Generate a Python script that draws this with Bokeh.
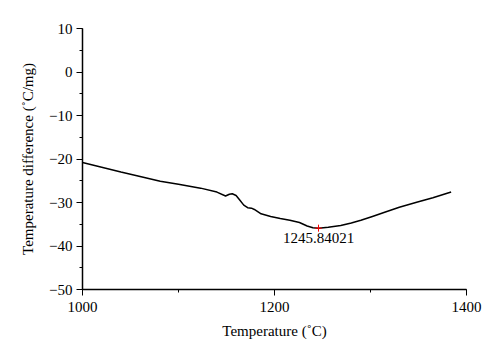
from bokeh.plotting import figure
from bokeh.models import Range1d, SingleIntervalTicker
from bokeh.core.properties import value
from bokeh.embed import file_html
from bokeh.resources import INLINE

temp = [1000, 1020, 1040, 1060, 1081, 1100, 1123, 1140, 1149, 1153, 1156, 1160, 1164, 1168,
        1172, 1176, 1179, 1186, 1196, 1206, 1216, 1226, 1234, 1240, 1245.84, 1256, 1269,
        1280, 1290, 1302, 1314, 1330, 1349, 1365, 1384]
diff = [-20.8, -21.9, -23.0, -24.0, -25.1, -25.8, -26.7, -27.6, -28.5, -28.1, -28.0, -28.4,
        -29.5, -30.6, -31.2, -31.3, -31.6, -32.6, -33.2, -33.7, -34.1, -34.6, -35.4, -35.8,
        -35.9, -35.7, -35.3, -34.7, -34.1, -33.2, -32.3, -31.1, -29.9, -28.9, -27.6]
min_x = [1245.84021]
min_y = [-35.9]
min_label = ["1245.84021"]

FONT = "Liberation Serif"

p = figure(width=500, height=354, output_backend="svg", toolbar_location=None,
           x_range=Range1d(1000, 1400), y_range=Range1d(-50, 10),
           min_border_left=82, min_border_right=34, min_border_top=28, min_border_bottom=65)
p.outline_line_color = None
p.xgrid.visible = False
p.ygrid.visible = False
p.background_fill_color = "white"
p.border_fill_color = "white"

p.line(temp, diff, line_color="black", line_width=1.5)
p.scatter(min_x, min_y, marker="cross", size=7, line_color="red", line_width=1)
p.text(x=min_x, y=min_y, text=min_label, text_align="center", text_baseline="top",
       y_offset=5, text_font=value(FONT), text_font_size="15px", text_color="black")

p.xaxis.ticker = SingleIntervalTicker(interval=200, num_minor_ticks=2)
p.yaxis.ticker = SingleIntervalTicker(interval=10, num_minor_ticks=2)
p.xaxis.axis_label = "Temperature (˚C)"
p.yaxis.axis_label = "Temperature difference (˚C/mg)"
for ax in (p.xaxis[0], p.yaxis[0]):
    ax.axis_label_text_font = FONT
    ax.axis_label_text_font_style = "normal"
    ax.axis_label_text_font_size = "15px"
    ax.axis_label_text_color = "black"
    ax.major_label_text_font = FONT
    ax.major_label_text_font_size = "15px"
    ax.major_label_text_color = "black"
    ax.axis_line_width = 1.5
    ax.axis_line_color = "black"
    ax.major_tick_line_color = "black"
    ax.minor_tick_line_color = "black"
    ax.major_tick_out = 6
    ax.major_tick_in = 0
    ax.minor_tick_out = 3
    ax.minor_tick_in = 0
p.xaxis[0].major_label_standoff = 6
p.xaxis[0].axis_label_standoff = 8
p.yaxis[0].major_label_standoff = 4
p.yaxis[0].axis_label_standoff = 10
p.yaxis.major_label_overrides = {v: ("\u2212" + str(-v)) if v < 0 else str(v) for v in range(-50, 11, 10)}

open("out.html", "w").write(file_html(p, INLINE))
